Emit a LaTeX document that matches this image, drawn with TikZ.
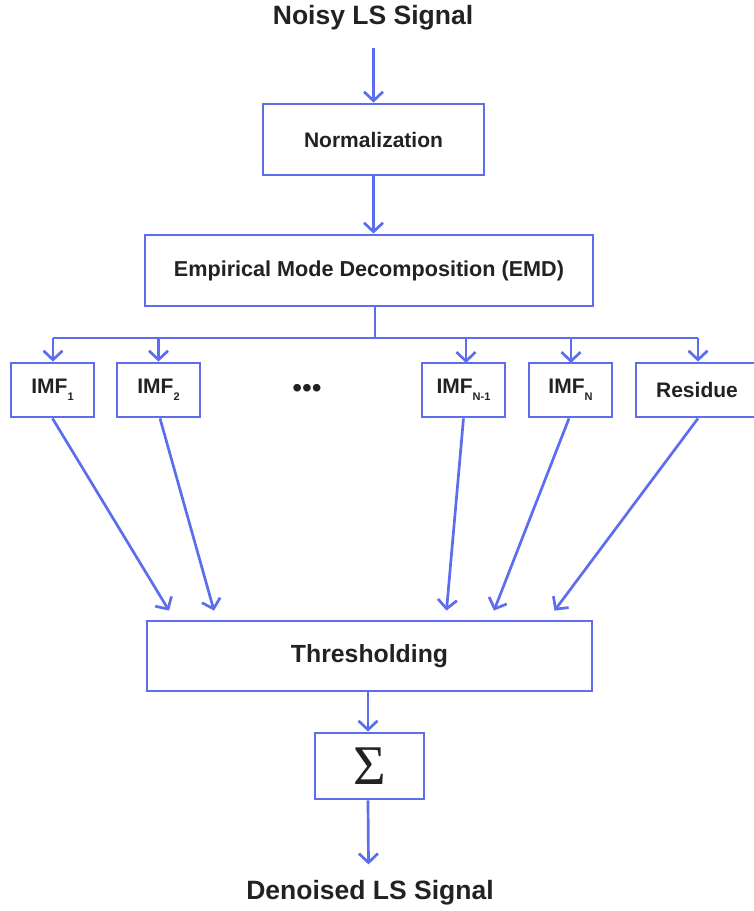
\documentclass[tikz,border=0pt]{standalone}
\usepackage{fontspec}
\setmainfont{Liberation Sans}
\newfontfamily\sigmafont{Liberation Serif}
\usetikzlibrary{arrows.meta,calc}
\definecolor{fb}{RGB}{92,110,238}
\definecolor{tx}{RGB}{34,34,34}
\newcommand{\sbs}[1]{\raisebox{-0.6ex}{\fontsize{11}{11}\selectfont #1}}
\begin{document}
\begin{tikzpicture}[x=1pt,y=-1pt,
  box/.style={draw=fb,line width=2.8pt,fill=white,text=tx,inner sep=0pt,
    font=\fontsize{21}{25}\selectfont\bfseries},
  ttl/.style={text=tx,inner sep=0pt,font=\fontsize{26.5}{30}\selectfont\bfseries},
  ln/.style={draw=fb,line width=2.7pt},
  arr/.style={draw=fb,line width=2.7pt,-{Straight Barb[length=9pt,width=19pt]}}]
\useasboundingbox (0,0) rectangle (753,911);

\node[ttl] (noisy) at (373,18) {Noisy LS Signal};
\node[box,minimum width=221pt,minimum height=71pt] (norm) at (373.5,139.5) {Normalization};
\node[box,minimum width=448pt,minimum height=71pt,font=\fontsize{21.6}{25}\selectfont\bfseries] (emd) at (369,270.5) {Empirical Mode Decomposition (EMD)};

\node[box,minimum width=83pt,minimum height=54pt] (imf1) at (52.5,390) {IMF\sbs{1}};
\node[box,minimum width=83pt,minimum height=54pt] (imf2) at (158.5,390) {IMF\sbs{2}};
\node[text=tx,inner sep=0pt,font=\fontsize{28}{30}\selectfont] (dots) at (307,391) {•••};
\node[box,minimum width=83pt,minimum height=54pt] (imfm) at (463.5,390) {IMF\sbs{N-1}};
\node[box,minimum width=83pt,minimum height=54pt] (imfn) at (570.5,390) {IMF\sbs{N}};
\node[box,minimum width=122pt,minimum height=54pt] (res) at (697,390) {Residue};

\node[box,minimum width=445pt,minimum height=70pt,font=\fontsize{24.8}{28}\selectfont\bfseries] (thr) at (369.5,656) {Thresholding};
\node[box,minimum width=109pt,minimum height=66pt,font=\sigmafont\fontsize{56}{56}\selectfont] (sum) at (369.5,766) {Σ};
\node[ttl] (den) at (370,893) {Denoised LS Signal};

% top chain
\draw[arr] ([yshift=-17pt]noisy.south -| norm.north) -- (norm.north);
\draw[arr] (norm.south) -- (norm.south |- emd.north);

% split
\coordinate (split) at (375,338);
\coordinate (L) at (53,338);
\coordinate (R) at (698,338);
\draw[ln] (emd.south -| split) -- (split);
\draw[ln] (L) -- (R);
\draw[arr] (L) -- (L |- imf1.north);
\draw[arr] (imf2.north |- split) -- (imf2.north);
\draw[arr] (466,338) -- (466,363);
\draw[arr] (571,338) -- (571,363);
\draw[arr] (R) -- (R |- res.north);

% to thresholding
\draw[arr] ([xshift=0pt]imf1.south) -- ($(thr.north)+(-200.5,-9)$);
\draw[arr] ([xshift=1.5pt]imf2.south) -- ($(thr.north)+(-155.5,-9)$);
\draw[arr] (imfm.south) -- ($(thr.north)+(77,-9)$);
\draw[arr] ([xshift=-1.5pt]imfn.south) -- ($(thr.north)+(124.5,-9)$);
\draw[arr] ([xshift=1pt]res.south) -- ($(thr.north)+(185,-9)$);

% bottom chain
\draw[arr] ([xshift=-1.5pt]thr.south) -- ([xshift=-1.5pt]sum.north);
\draw[arr] ([xshift=-1.5pt]sum.south) -- ([xshift=-1.5pt,yshift=16pt]den.north);
\end{tikzpicture}
\end{document}
